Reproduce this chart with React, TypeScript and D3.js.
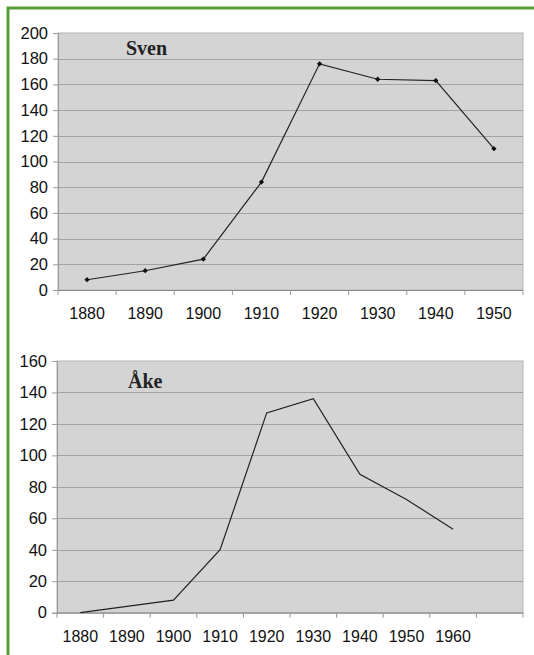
import React, { useRef, useEffect } from 'react';
import * as d3 from 'd3';

// Sven
const svenYears = ['1880', '1890', '1900', '1910', '1920', '1930', '1940', '1950'];
const svenValues = [8, 15, 24, 84, 176, 164, 163, 110];
const svenTicks = [0, 20, 40, 60, 80, 100, 120, 140, 160, 180, 200];

// Åke (last slot has no label and no value)
const akeYears = ['1880', '1890', '1900', '1910', '1920', '1930', '1940', '1950', '1960', ''];
const akeValues = [0, 4, 8, 40, 127, 136, 88, 72, 53];
const akeTicks = [0, 20, 40, 60, 80, 100, 120, 140, 160];

const drawPanel = (svg, opts) => {
    const { title, labels, values, yTicks, yMax, left, right, top, bottom, markers, titleX, titleY } = opts;
    const g = svg.append('g');

    const x = d3.scaleBand().domain(labels.map((_, i) => String(i))).range([left, right]).padding(0);
    const y = d3.scaleLinear().domain([0, yMax]).range([bottom, top]);

    g.append('rect')
        .attr('x', left)
        .attr('y', top)
        .attr('width', right - left)
        .attr('height', bottom - top)
        .attr('fill', '#d4d4d4')
        .attr('stroke', '#b4b4b4')
        .attr('stroke-width', 1);

    // gridlines
    g.selectAll('line.grid')
        .data(yTicks.filter(t => t > 0 && t < yMax))
        .enter()
        .append('line')
        .attr('class', 'grid')
        .attr('x1', left)
        .attr('x2', right)
        .attr('y1', d => Math.round(y(d)) + 0.5)
        .attr('y2', d => Math.round(y(d)) + 0.5)
        .attr('stroke', '#a2a2a2')
        .attr('stroke-width', 1.2);

    // y axis
    const yAxis = g.append('g')
        .attr('transform', `translate(${left},0)`)
        .call(d3.axisLeft(y).tickValues(yTicks).tickSize(5).tickPadding(5).tickFormat(d3.format('d')));
    yAxis.select('.domain').attr('stroke', '#999');
    yAxis.selectAll('.tick line').attr('stroke', '#999');
    yAxis.selectAll('text')
        .attr('font-family', '"Liberation Sans", Arial, sans-serif')
        .attr('font-size', 16.5)
        .attr('fill', '#111');

    // x axis: line, boundary ticks, centered labels
    g.append('line')
        .attr('x1', left)
        .attr('x2', right)
        .attr('y1', bottom + 0.5)
        .attr('y2', bottom + 0.5)
        .attr('stroke', '#8a8a8a')
        .attr('stroke-width', 1.2);

    g.selectAll('line.xtick')
        .data(d3.range(labels.length + 1))
        .enter()
        .append('line')
        .attr('class', 'xtick')
        .attr('x1', i => left + i * x.step())
        .attr('x2', i => left + i * x.step())
        .attr('y1', bottom)
        .attr('y2', bottom + 5)
        .attr('stroke', '#999');

    g.selectAll('text.xlab')
        .data(labels)
        .enter()
        .append('text')
        .attr('class', 'xlab')
        .attr('x', (_, i) => x(String(i)) + x.bandwidth() / 2)
        .attr('y', bottom + 29)
        .attr('text-anchor', 'middle')
        .attr('font-family', '"Liberation Sans", Arial, sans-serif')
        .attr('font-size', 16)
        .attr('fill', '#111')
        .text(d => d);

    const line = d3.line()
        .x((_, i) => x(String(i)) + x.bandwidth() / 2)
        .y(d => y(d));

    g.append('path')
        .datum(values)
        .attr('fill', 'none')
        .attr('stroke', '#222')
        .attr('stroke-width', 1.2)
        .attr('d', line);

    if (markers) {
        g.selectAll('path.mark')
            .data(values)
            .enter()
            .append('path')
            .attr('class', 'mark')
            .attr('d', d3.symbol().type(d3.symbolSquare).size(14))
            .attr('transform', (d, i) => `translate(${x(String(i)) + x.bandwidth() / 2},${y(d)}) rotate(45)`)
            .attr('fill', '#111');
    }

    g.append('text')
        .attr('x', titleX)
        .attr('y', titleY)
        .attr('font-family', '"Liberation Serif", "Times New Roman", serif')
        .attr('font-weight', 'bold')
        .attr('font-size', 20)
        .attr('fill', '#222')
        .text(title);
};

const App = () => {
    const ref = useRef(null);

    useEffect(() => {
        if (!ref.current) return;
        const svg = d3.select(ref.current);
        svg.selectAll('*').remove();

        svg.append('rect').attr('width', 534).attr('height', 655).attr('fill', '#fff');

        // green frame
        svg.append('rect')
            .attr('x', 8)
            .attr('y', 8)
            .attr('width', 560)
            .attr('height', 680)
            .attr('fill', 'none')
            .attr('stroke', '#5b9c3a')
            .attr('stroke-width', 3);

        drawPanel(svg, {
            title: 'Sven', labels: svenYears, values: svenValues, yTicks: svenTicks, yMax: 200,
            left: 58, right: 523, top: 33, bottom: 290, markers: true, titleX: 126, titleY: 55,
        });

        drawPanel(svg, {
            title: 'Åke', labels: akeYears, values: akeValues, yTicks: akeTicks, yMax: 160,
            left: 57, right: 523, top: 361, bottom: 612.7, markers: false, titleX: 128, titleY: 388,
        });
    }, []);

    return (
        <svg
            ref={ref}
            width={534}
            height={655}
            style={{ position: 'absolute', left: 0, top: 0, display: 'block' }}
        />
    );
};

export default App;
